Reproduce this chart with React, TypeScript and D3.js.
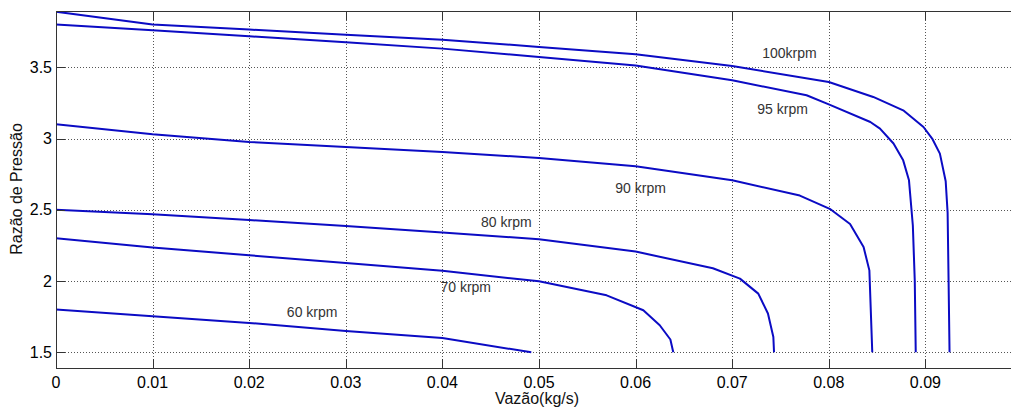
import React from 'react';
import * as d3 from 'd3';

const W = 1011;
const H = 411;

// curves: vazão (kg/s) vs razão de pressão, per rotation
const x60 = [0, 0.01, 0.02, 0.03, 0.04, 0.0492];
const y60 = [1.8, 1.753, 1.706, 1.65, 1.6, 1.5];

const x70 = [0, 0.01, 0.02, 0.03, 0.04, 0.05, 0.057, 0.0608, 0.0625, 0.0636, 0.0639];
const y70 = [2.3, 2.235, 2.181, 2.127, 2.073, 1.998, 1.9, 1.795, 1.69, 1.59, 1.5];

const x80 = [0, 0.01, 0.02, 0.03, 0.04, 0.05, 0.06, 0.068, 0.0708, 0.0727, 0.0737, 0.07426, 0.07433];
const y80 = [2.5, 2.468, 2.428, 2.386, 2.341, 2.293, 2.207, 2.09, 2.017, 1.912, 1.772, 1.607, 1.5];

const x90 = [0, 0.01, 0.02, 0.03, 0.04, 0.05, 0.06, 0.07, 0.077, 0.0801, 0.0822, 0.0836, 0.0842, 0.0845];
const y90 = [3.1, 3.03, 2.976, 2.941, 2.906, 2.864, 2.805, 2.707, 2.6, 2.507, 2.4, 2.239, 2.075, 1.5];

const x95 = [0, 0.01, 0.02, 0.03, 0.04, 0.05, 0.06, 0.07, 0.0777, 0.08, 0.0843, 0.0853, 0.0867, 0.0877, 0.0883, 0.0887, 0.0889, 0.089];
const y95 = [3.8, 3.76, 3.718, 3.675, 3.631, 3.572, 3.512, 3.409, 3.304, 3.24, 3.116, 3.07, 2.965, 2.847, 2.707, 2.39, 2.0, 1.5];

const x100 = [0, 0.01, 0.02, 0.03, 0.04, 0.05, 0.06, 0.07, 0.08, 0.0846, 0.0877, 0.0898, 0.0907, 0.0915, 0.0921, 0.0923, 0.0924, 0.0925];
const y100 = [3.89, 3.8, 3.765, 3.729, 3.694, 3.643, 3.591, 3.509, 3.397, 3.292, 3.198, 3.081, 3.0, 2.894, 2.7, 2.48, 2.0, 1.5];

const curveX = [x60, x70, x80, x90, x95, x100];
const curveY = [y60, y70, y80, y90, y95, y100];

// curve labels (text, and where they sit in data units)
const labelText = ['60 krpm', '70 krpm', '80 krpm', '90 krpm', '95 krpm', '100krpm'];
const labelX = [0.0239, 0.0398, 0.044, 0.0579, 0.0726, 0.0731];
const labelY = [1.783, 1.956, 2.414, 2.656, 3.21, 3.603];

const xTicks = [0, 0.01, 0.02, 0.03, 0.04, 0.05, 0.06, 0.07, 0.08, 0.09];
const yTicks = [1.5, 2, 2.5, 3, 3.5];

const x = d3.scaleLinear().domain([0, 0.1]).range([56, 1022]);
const y = d3.scaleLinear().domain([1.39, 3.895]).range([368, 11]);

const FONT = '"Liberation Sans", Arial, sans-serif';
const BLUE = '#0b0bc4';

export default function App() {
  const line = d3.line<number>()
    .x(d => d[0])
    .y(d => d[1]);

  const left = x.range()[0];
  const right = x.range()[1];
  const top = y.range()[1];
  const bottom = y.range()[0];
  const tickLen = 9;

  return (
    <svg width={W} height={H} style={{ position: 'absolute', left: 0, top: 0, background: '#fff' }}
      fontFamily={FONT}>
      <defs>
        <clipPath id="plot">
          <rect x={left} y={top} width={right - left} height={bottom - top} />
        </clipPath>
      </defs>

      {/* grid */}
      <g stroke="#555" strokeWidth={1} strokeDasharray="1,2">
        {xTicks.filter(t => t > 0).map(t => (
          <line key={'gx' + t} x1={Math.round(x(t)) + 0.5} x2={Math.round(x(t)) + 0.5} y1={top} y2={bottom} />
        ))}
        {yTicks.map(t => (
          <line key={'gy' + t} x1={left} x2={right} y1={Math.round(y(t)) + 0.5} y2={Math.round(y(t)) + 0.5} />
        ))}
      </g>

      {/* curves */}
      <g clipPath="url(#plot)" fill="none" stroke={BLUE} strokeWidth={2} strokeLinejoin="round">
        {curveX.map((xs, i) => (
          <path key={'c' + i}
            d={line(xs.map((v, j) => [x(v), y(curveY[i][j])]) as any) || ''} />
        ))}
      </g>

      {/* box + ticks */}
      <g stroke="#333" strokeWidth={1}>
        <line x1={left} x2={right} y1={top + 0.5} y2={top + 0.5} />
        <line x1={left} x2={right} y1={bottom + 0.5} y2={bottom + 0.5} />
        <line x1={left + 0.5} x2={left + 0.5} y1={top} y2={bottom} />
        {xTicks.map(t => (
          <g key={'tx' + t}>
            <line x1={Math.round(x(t)) + 0.5} x2={Math.round(x(t)) + 0.5} y1={bottom} y2={bottom - tickLen} />
            <line x1={Math.round(x(t)) + 0.5} x2={Math.round(x(t)) + 0.5} y1={top} y2={top + tickLen} />
          </g>
        ))}
        {yTicks.map(t => (
          <line key={'ty' + t} x1={left} x2={left + tickLen} y1={Math.round(y(t)) + 0.5} y2={Math.round(y(t)) + 0.5} />
        ))}
      </g>

      {/* tick labels */}
      <g fontSize={16} fill="#000">
        {xTicks.map(t => (
          <text key={'lx' + t} x={x(t)} y={382} textAnchor="middle" dominantBaseline="central">
            {d3.format('~g')(t)}
          </text>
        ))}
        {yTicks.map(t => (
          <text key={'ly' + t} x={52} y={y(t)} textAnchor="end" dominantBaseline="central">
            {d3.format('~g')(t)}
          </text>
        ))}
      </g>

      {/* axis titles */}
      <text x={537} y={398} fontSize={16} textAnchor="middle" dominantBaseline="central" fill="#111">
        Vazão(kg/s)
      </text>
      <text transform="translate(16,189) rotate(-90)" fontSize={16} textAnchor="middle"
        dominantBaseline="central" fill="#111">
        Razão de Pressão
      </text>

      {/* curve labels */}
      <g fontSize={14} fill="#333">
        {labelText.map((s, i) => (
          <text key={'cl' + i} x={x(labelX[i])} y={y(labelY[i])} dominantBaseline="central">{s}</text>
        ))}
      </g>
    </svg>
  );
}
